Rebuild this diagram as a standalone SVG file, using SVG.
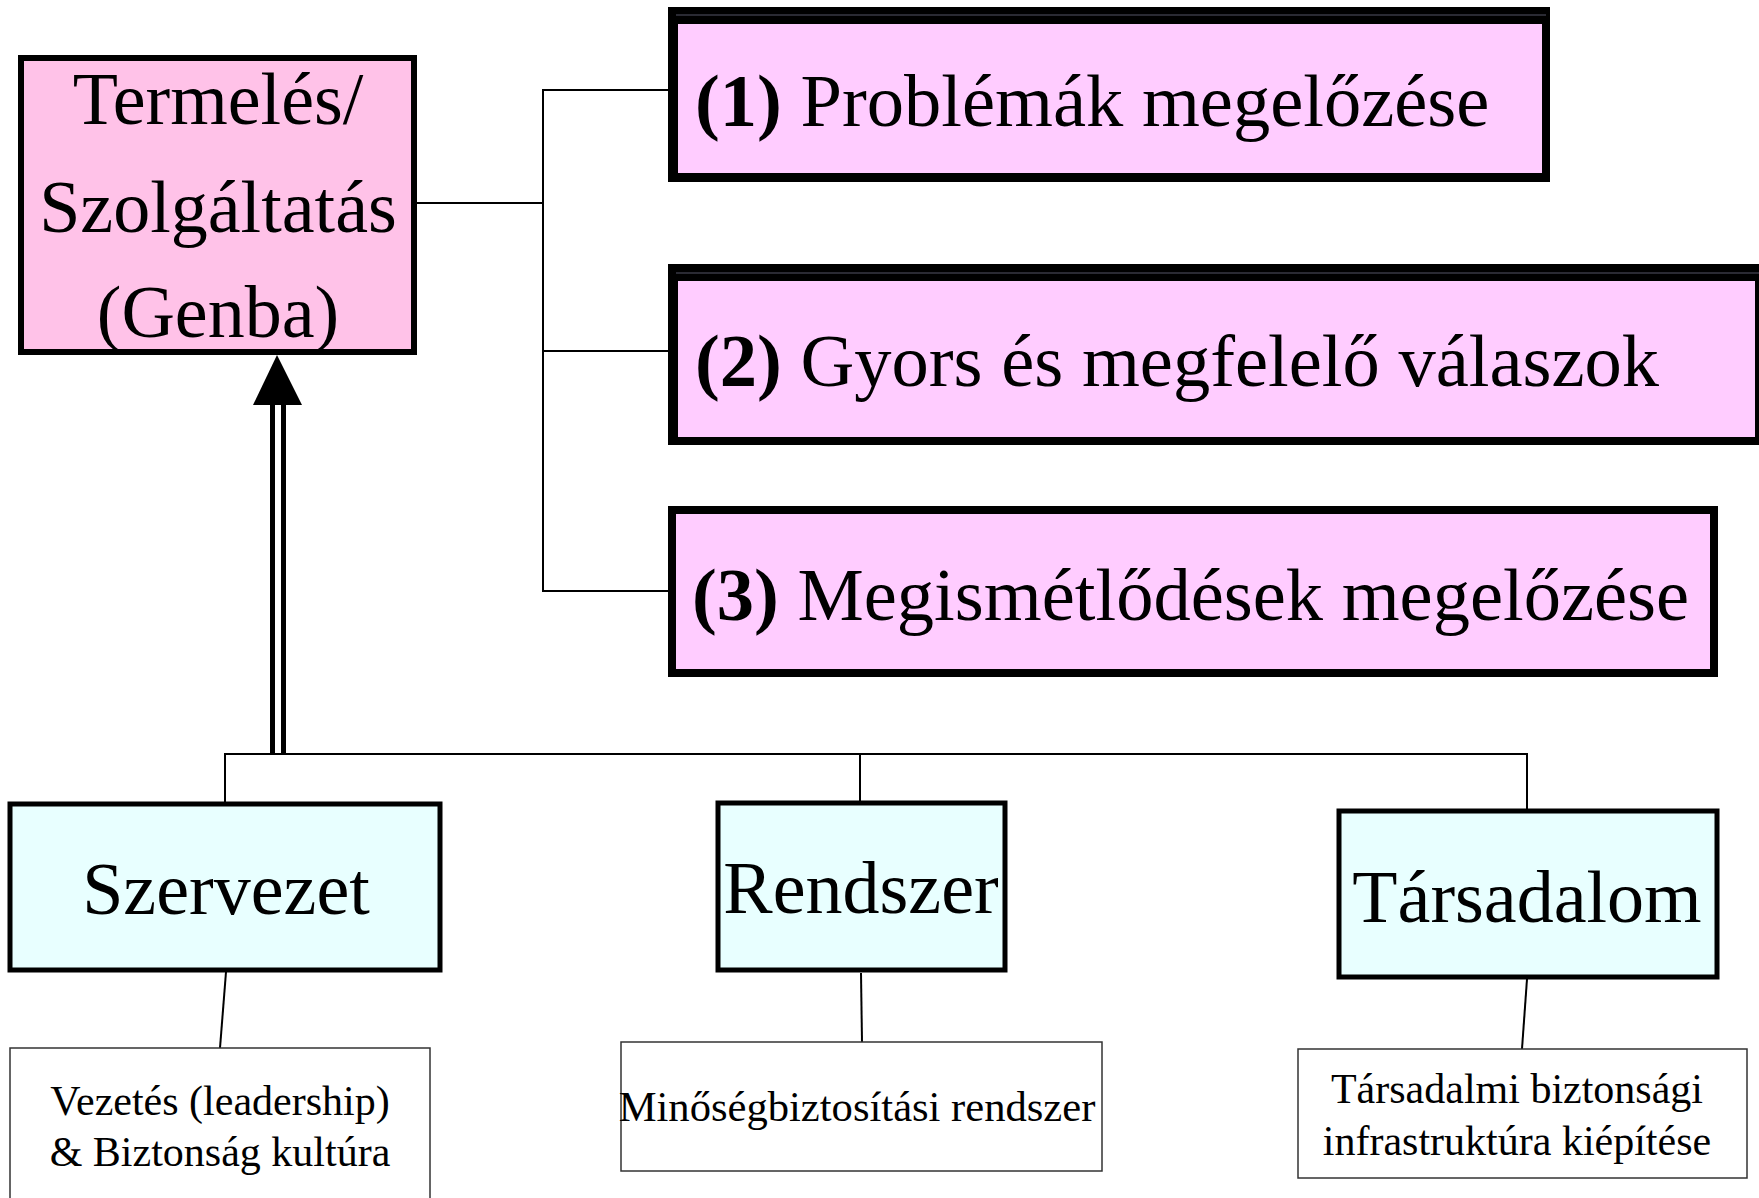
<svg xmlns="http://www.w3.org/2000/svg" width="1759" height="1198" viewBox="0 0 1759 1198">
<style>
text{font-family:"Liberation Serif","Times New Roman",serif;fill:#000}
.big{font-size:74px}
.hdr{font-size:74.5px}
.sm{font-size:42px}
.ln{stroke:#000;stroke-width:2;fill:none}
.pk{fill:#FFCCFF}
.shd{fill:#000}
.cy{fill:#E8FFFF;stroke:#000;stroke-width:5}
.wb{fill:#fff;stroke:#333;stroke-width:1.5}
</style>
<rect width="1759" height="1198" fill="#fff"/>
<g id="connectors">
<polyline class="ln" points="417,203 543,203"/>
<polyline class="ln" points="668,90 543,90 543,591 668,591"/>
<polyline class="ln" points="543,351 668,351"/>
<polyline class="ln" points="225,802 225,754 1527,754 1527,809"/>
<polyline class="ln" points="860,754 860,802"/>
<line x1="272.5" y1="400" x2="272.5" y2="755" stroke="#000" stroke-width="5"/>
<line x1="283.5" y1="400" x2="283.5" y2="755" stroke="#000" stroke-width="5"/>
<polygon points="277,355 253,405 302,405" fill="#000"/>
<line class="ln" x1="226" y1="972" x2="220" y2="1048"/>
<line class="ln" x1="861" y1="973" x2="862" y2="1042"/>
<line class="ln" x1="1527" y1="979" x2="1522" y2="1049"/>
</g>
<g id="genba">
<rect x="21" y="58" width="393" height="294" fill="#FFC2E8" stroke="#000" stroke-width="6"/>
<text class="big" x="218" y="124" text-anchor="middle">Termelés/</text>
<text class="big" x="218" y="232" text-anchor="middle">Szolgáltatás</text>
<text class="big" x="218" y="337" text-anchor="middle">(Genba)</text>
</g>
<g id="box1">
<rect class="shd" x="668" y="7" width="882" height="175"/>
<line x1="676" y1="15" x2="1546" y2="15" stroke="#556" stroke-width="1"/>
<rect class="pk" x="678" y="24" width="864" height="149"/>
<text class="hdr" x="695" y="126"><tspan font-weight="bold">(1)</tspan> Problémák megelőzése</text>
</g>
<g id="box2">
<rect class="shd" x="668" y="264" width="1091" height="181"/>
<line x1="676" y1="273" x2="1759" y2="273" stroke="#556" stroke-width="1"/>
<rect class="pk" x="678" y="281" width="1077" height="156"/>
<text class="hdr" x="695" y="386"><tspan font-weight="bold">(2)</tspan> Gyors és megfelelő válaszok</text>
</g>
<g id="box3">
<rect class="shd" x="668" y="506" width="1050" height="171"/>
<rect class="pk" x="676" y="514" width="1034" height="155"/>
<text class="hdr" x="692" y="620"><tspan font-weight="bold">(3)</tspan> Megismétlődések megelőzése</text>
</g>
<g id="szervezet">
<rect class="cy" x="10" y="804" width="430" height="166"/>
<text class="big" x="226" y="914" text-anchor="middle">Szervezet</text>
</g>
<g id="rendszer">
<rect class="cy" x="718" y="803" width="287" height="167"/>
<text class="big" x="861" y="913" text-anchor="middle">Rendszer</text>
</g>
<g id="tarsadalom">
<rect class="cy" x="1339" y="811" width="378" height="166"/>
<text class="big" x="1527" y="922" text-anchor="middle">Társadalom</text>
</g>
<g id="sub1">
<rect class="wb" x="10" y="1048" width="420" height="160"/>
<text class="sm" x="220" y="1115" text-anchor="middle">Vezetés (leadership)</text>
<text class="sm" x="220" y="1166" text-anchor="middle">&amp; Biztonság kultúra</text>
</g>
<g id="sub2">
<rect class="wb" x="621" y="1042" width="481" height="129"/>
<text class="sm" x="857" y="1121" text-anchor="middle" style="font-size:42.6px">Minőségbiztosítási rendszer</text>
</g>
<g id="sub3">
<rect class="wb" x="1298" y="1049" width="449" height="129"/>
<text class="sm" x="1517" y="1103" text-anchor="middle">Társadalmi biztonsági</text>
<text class="sm" x="1517" y="1155" text-anchor="middle">infrastruktúra kiépítése</text>
</g>
</svg>
